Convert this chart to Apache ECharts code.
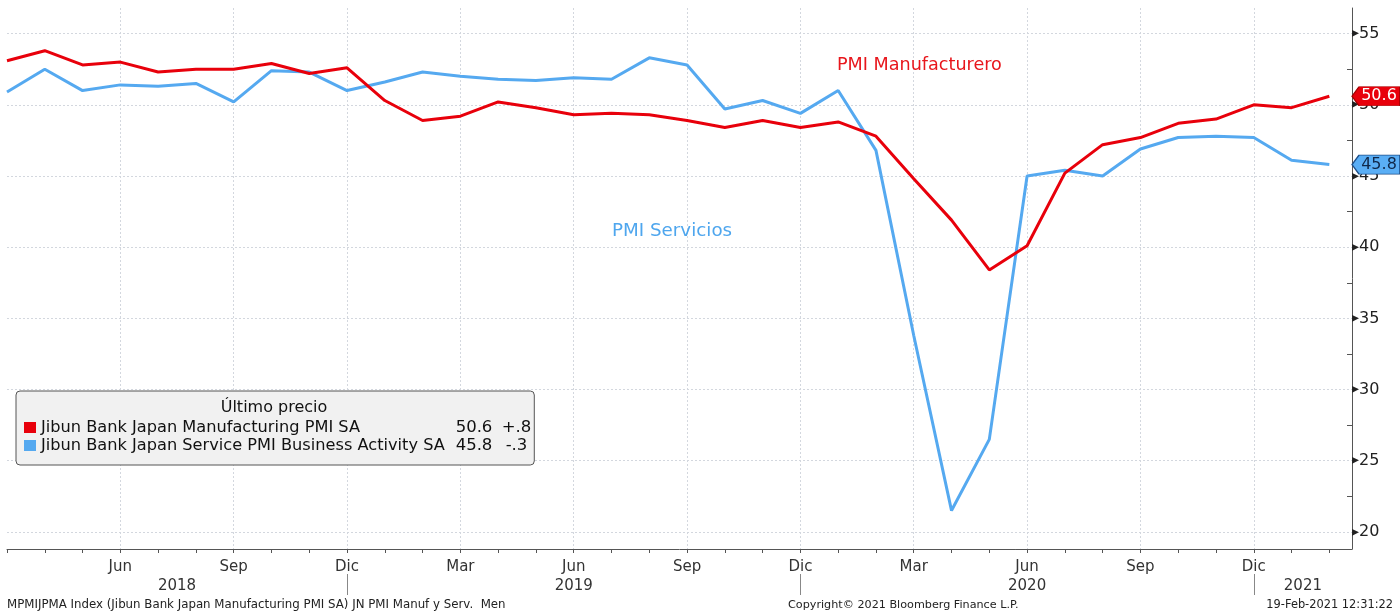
<!DOCTYPE html>
<html>
<head>
<meta charset="utf-8">
<script src="https://cdn.jsdelivr.net/npm/echarts@6.0.0/dist/echarts.min.js"></script>
<style>
html,body{margin:0;padding:0;background:#ffffff;}
#chart{width:1400px;height:614px;}
</style>
</head>
<body>
<div id="chart"></div>
<script>
// ---- data (monthly, Mar 2018 .. Feb 2021) ----
const months = ['2018-03','2018-04','2018-05','2018-06','2018-07','2018-08','2018-09','2018-10','2018-11','2018-12',
  '2019-01','2019-02','2019-03','2019-04','2019-05','2019-06','2019-07','2019-08','2019-09','2019-10','2019-11','2019-12',
  '2020-01','2020-02','2020-03','2020-04','2020-05','2020-06','2020-07','2020-08','2020-09','2020-10','2020-11','2020-12',
  '2021-01','2021-02'];
const manufacturing = [53.1,53.8,52.8,53.0,52.3,52.5,52.5,52.9,52.2,52.6,
  50.3,48.9,49.2,50.2,49.8,49.3,49.4,49.3,48.9,48.4,48.9,48.4,
  48.8,47.8,44.8,41.9,38.4,40.1,45.2,47.2,47.7,48.7,49.0,50.0,
  49.8,50.6];
const services = [50.9,52.5,51.0,51.4,51.3,51.5,50.2,52.4,52.3,51.0,
  51.6,52.3,52.0,51.8,51.7,51.9,51.8,53.3,52.8,49.7,50.3,49.4,
  51.0,46.8,33.8,21.5,26.5,45.0,45.4,45.0,46.9,47.7,47.8,47.7,
  46.1,45.8];
const seriesNames = ['Jibun Bank Japan Manufacturing PMI SA','Jibun Bank Japan Service PMI Business Activity SA'];
const monthTickLabels = {'2018-06':'Jun','2018-09':'Sep','2018-12':'Dic','2019-03':'Mar','2019-06':'Jun','2019-09':'Sep','2019-12':'Dic',
  '2020-03':'Mar','2020-06':'Jun','2020-09':'Sep','2020-12':'Dic'};
const yearLabels = ['2018','2019','2020','2021'];
const yearLabelPos = [4.5,15,27,34.3];      // centre of each visible year span (month index)
const yearSeparators = ['2018-12','2019-12','2020-12'];
const yTickValues = [20,25,30,35,40,45,50,55];
const yMinorTickValues = [22.5,27.5,32.5,37.5,42.5,47.5,52.5];
const legendTitle = 'Último precio';
const annotManuf = 'PMI Manufacturero';
const annotServ = 'PMI Servicios';
const footerLeft = 'MPMIJPMA Index (Jibun Bank Japan Manufacturing PMI SA) JN PMI Manuf y Serv.  Men';
const footerMid = 'Copyright\u00A9 2021 Bloomberg Finance L.P.';
const footerRight = '19-Feb-2021 12:31:22';

// ---- derived ----
const xMin = 0, xMax = 35.6, yMin = 18.8, yMax = 56.8;
const RED = '#e8000b', BLUE = '#55a9f0';
const monthIdx = months.map((m,i)=>i);
const quarterIdx = months.map((m,i)=>monthTickLabels[m] ? i : -1).filter(i=>i>=0);
const sepIdx = yearSeparators.map(m=>months.indexOf(m));
const manufData = manufacturing.map((v,i)=>[i,v]);
const servData = services.map((v,i)=>[i,v]);
function chg(arr){
  const d = Math.round((arr[arr.length-1]-arr[arr.length-2])*10)/10;
  let s = Math.abs(d).toFixed(1).replace(/^0\./,'.');
  return (d>0?'+':'-')+s;
}
const lastM = manufacturing[manufacturing.length-1], lastS = services[services.length-1];
const legendVals = {};
legendVals[seriesNames[0]] = [lastM.toFixed(1), chg(manufacturing)];
legendVals[seriesNames[1]] = [lastS.toFixed(1), chg(services)];

const FONT = 'DejaVu Sans';
const GRID = {left:7, right:48, top:8, bottom:65, containLabel:false};

const chart = echarts.init(document.getElementById('chart'), null, {renderer:'canvas'});
const option = {
  animation:false,
  backgroundColor:'#ffffff',
  grid:[Object.assign({}, GRID), Object.assign({}, GRID)],
  xAxis:[
    { // month ticks + quarter labels
      gridIndex:0, type:'value', position:'bottom', min:xMin, max:xMax,
      axisLine:{show:true, onZero:false, lineStyle:{color:'#555', width:1}},
      axisTick:{show:true, customValues:monthIdx, length:4, lineStyle:{color:'#555'}},
      axisLabel:{customValues:quarterIdx, formatter:v=>monthTickLabels[months[Math.round(v)]]||'',
        fontFamily:FONT, fontSize:15, color:'#333', margin:11},
      splitLine:{show:false}
    },
    { // year separators and year labels
      gridIndex:0, type:'value', position:'bottom', offset:25, min:xMin, max:xMax,
      axisLine:{show:false, onZero:false},
      axisTick:{show:true, customValues:sepIdx, length:21, lineStyle:{color:'#888'}},
      axisLabel:{customValues:yearLabelPos, formatter:v=>{const k=yearLabelPos.findIndex(p=>Math.abs(p-v)<0.01);return k>=0?yearLabels[k]:'';},
        fontFamily:FONT, fontSize:15, color:'#333', margin:5},
      splitLine:{show:false}
    },
    { // quarterly vertical grid lines
      gridIndex:0, type:'value', position:'bottom', min:xMin, max:xMax,
      axisLine:{show:false, onZero:false}, axisLabel:{show:false},
      axisTick:{show:false, customValues:quarterIdx},
      splitLine:{show:true, lineStyle:{type:[2,2], color:'#d3d7de', width:1}}
    },
    { // helper x axis for minor y ticks grid
      gridIndex:1, type:'value', position:'bottom', min:xMin, max:xMax,
      axisLine:{show:false, onZero:false}, axisTick:{show:false}, axisLabel:{show:false}, splitLine:{show:false}
    }
  ],
  yAxis:[
    {
      gridIndex:0, type:'value', position:'right', min:yMin, max:yMax,
      axisLine:{show:true, onZero:false, lineStyle:{color:'#555', width:1}},
      axisTick:{show:false, customValues:yTickValues},
      axisLabel:{customValues:yTickValues, margin:0, color:'#222', fontFamily:FONT, fontSize:16,
        formatter:v=>'{t|\u25B8}{v|'+v+'}', rich:{t:{fontSize:14, color:'#222', fontFamily:FONT}, v:{fontSize:16, color:'#222', fontFamily:FONT}}},
      splitLine:{show:true, lineStyle:{type:[2,2], color:'#d3d7de', width:1}}
    },
    {
      gridIndex:1, type:'value', position:'right', min:yMin, max:yMax,
      axisLine:{show:false, onZero:false}, axisLabel:{show:false}, splitLine:{show:false},
      axisTick:{show:true, inside:true, customValues:yMinorTickValues, length:5, lineStyle:{color:'#555'}}
    }
  ],
  legend:{
    orient:'vertical', left:16, top:391,
    data:seriesNames,
    icon:'rect', itemWidth:12, itemHeight:11, itemGap:1,
    backgroundColor:'#f1f1f1', borderColor:'#555', borderWidth:1, borderRadius:4,
    padding:[28,3,11,8],
    selectedMode:false,
    textStyle:{fontFamily:FONT, fontSize:16, color:'#111',
      rich:{
        n:{fontFamily:FONT, fontSize:16.2, lineHeight:17, color:'#111', width:406},
        v:{fontFamily:FONT, fontSize:16.5, lineHeight:17, color:'#111', width:54, align:'right'},
        c:{fontFamily:FONT, fontSize:16.5, lineHeight:17, color:'#111', width:17, align:'left', padding:[0,0,0,7]}
      }},
    formatter:name=>'{n|'+name+'}{v|'+legendVals[name][0]+'}{c|'+legendVals[name][1]+'}'
  },
  graphic:[
    {type:'text', z:100, style:{text:legendTitle, x:274, y:408, textAlign:'center', textVerticalAlign:'middle',
      font:'16px "DejaVu Sans"', fill:'#111'}},
    {type:'text', z:100, style:{text:annotManuf, x:837, y:65, textVerticalAlign:'middle', font:'17.6px "DejaVu Sans"', fill:'#e8161c'}},
    {type:'text', z:100, style:{text:annotServ, x:612, y:231, textVerticalAlign:'middle', font:'18.3px "DejaVu Sans"', fill:'#4ea6ee'}},
    {type:'text', z:100, style:{text:footerLeft, x:7, y:605, textVerticalAlign:'middle', font:'11.8px "DejaVu Sans"', fill:'#222'}},
    {type:'text', z:100, style:{text:footerMid, x:788, y:605, textVerticalAlign:'middle', font:'11.2px "DejaVu Sans"', fill:'#222'}},
    {type:'text', z:100, style:{text:footerRight, x:1393, y:605, textAlign:'right', textVerticalAlign:'middle', font:'11.4px "DejaVu Sans"', fill:'#222'}}
  ],
  series:[
    {
      name:seriesNames[0], type:'line', xAxisIndex:0, yAxisIndex:0, data:manufData, showSymbol:false, symbol:'none',
      lineStyle:{color:RED, width:3}, itemStyle:{color:RED}, z:3,
      markPoint:{
        symbol:'path://M0,9 L7,0 L48,0 L48,18 L7,18 Z', symbolSize:[48,19], symbolOffset:[24,0], symbolKeepAspect:false,
        itemStyle:{color:RED, borderColor:'#a00000', borderWidth:1},
        label:{show:true, position:'inside', offset:[3,0], color:'#ffffff', fontFamily:FONT, fontSize:16, formatter:p=>p.value.toFixed(1)},
        data:[{coord:[xMax, lastM], value:lastM}]
      }
    },
    {
      name:seriesNames[1], type:'line', xAxisIndex:0, yAxisIndex:0, data:servData, showSymbol:false, symbol:'none',
      lineStyle:{color:BLUE, width:3}, itemStyle:{color:BLUE}, z:2,
      markPoint:{
        symbol:'path://M0,9 L7,0 L48,0 L48,18 L7,18 Z', symbolSize:[48,19], symbolOffset:[24,0], symbolKeepAspect:false,
        itemStyle:{color:'#5aaef5', borderColor:'#1d4f8a', borderWidth:1},
        label:{show:true, position:'inside', offset:[3,0], color:'#10284a', fontFamily:FONT, fontSize:16, formatter:p=>p.value.toFixed(1)},
        data:[{coord:[xMax, lastS], value:lastS}]
      }
    }
  ]
};
chart.setOption(option);
</script>
</body>
</html>
